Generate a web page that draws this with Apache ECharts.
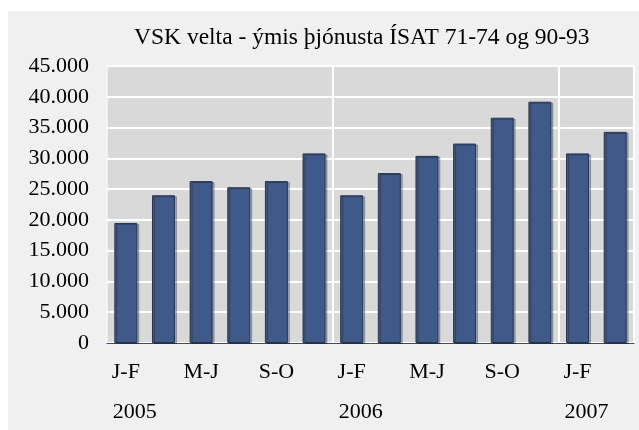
<!DOCTYPE html>
<html>
<head>
<meta charset="UTF-8">
<title>VSK velta</title>
<script src="https://cdn.jsdelivr.net/npm/echarts@6/dist/echarts.min.js"></script>
<style>
    html, body { margin: 0; padding: 0; background: #fff; }
    #chart { position: absolute; left: 8px; top: 11px; width: 631px; height: 419px; background: #f0f0f0; }
</style>
</head>
<body>
<div id="chart"></div>
<script type="text/javascript">
    // tímabil (tveggja mánaða)
    var months = ['J-F', 'M-A', 'M-J', 'J-Á', 'S-O', 'N-D',
                  'J-F', 'M-A', 'M-J', 'J-Á', 'S-O', 'N-D',
                  'J-F', 'M-A'];
    var years = ['2005', '', '', '', '', '',
                 '2006', '', '', '', '', '',
                 '2007', ''];
    // velta, m.kr.
    var velta = [19500, 24000, 26300, 25300, 26300, 30800,
                 24000, 27600, 30400, 32400, 36600, 39200,
                 30800, 34300];
    var yTicks = [0, 5000, 10000, 15000, 20000, 25000, 30000, 35000, 40000, 45000];

    var font = 'Liberation Serif';
    var fs = 22;
    var myChart = echarts.init(document.getElementById('chart'));

    var option = {
        title: {
            text: 'VSK velta - ýmis þjónusta ÍSAT 71-74 og 90-93',
            left: 121,
            top: 10,
            textStyle: { fontFamily: font, fontSize: 23.5, fontWeight: 'normal', color: '#000' }
        },
        grid: {
            left: 99, right: 5, top: 55, bottom: 87,
            show: true,
            backgroundColor: '#d9d9d9',
            borderColor: '#ffffff',
            borderWidth: 1
        },
        xAxis: [
            {
                type: 'category',
                data: months,
                axisLine: { lineStyle: { color: '#3b4a66', width: 1 } },
                axisTick: { show: false },
                axisLabel: { interval: 1, margin: 18, fontFamily: font, fontSize: fs, color: '#000' },
                splitLine: {
                    show: true,
                    interval: function (i) { return i === 6 || i === 12; },
                    lineStyle: { color: '#ffffff', width: 2 }
                }
            },
            {
                type: 'category',
                data: years,
                position: 'bottom',
                axisLine: { show: false },
                axisTick: { show: false },
                splitLine: { show: false },
                axisLabel: {
                    interval: 0,
                    margin: 58,
                    fontFamily: font,
                    fontSize: fs,
                    color: '#000',
                    formatter: function (v) { return v ? '{y|' + v + '}' : ''; },
                    rich: { y: { fontFamily: font, fontSize: fs, color: '#000', padding: [0, 0, 0, 18] } }
                }
            }
        ],
        yAxis: {
            type: 'value',
            min: yTicks[0],
            max: yTicks[yTicks.length - 1],
            interval: 5000,
            axisLine: { show: false },
            axisTick: { show: false },
            axisLabel: {
                margin: 18,
                fontFamily: font,
                fontSize: fs,
                color: '#000',
                formatter: function (v) { return v === 0 ? '0' : String(v / 1000) + '.000'; }
            },
            splitLine: { lineStyle: { color: '#ffffff', width: 2 } }
        },
        series: [
            {
                name: 'VSK velta',
                type: 'bar',
                xAxisIndex: 0,
                data: velta,
                barWidth: '61%',
                itemStyle: {
                    color: '#3f5988',
                    borderColor: '#25344f',
                    borderWidth: 1,
                    shadowColor: 'rgba(0,0,0,0.25)',
                    shadowOffsetX: 2,
                    shadowOffsetY: 1,
                    shadowBlur: 0
                }
            }
        ]
    };
    myChart.setOption(option);
</script>
</body>
</html>
